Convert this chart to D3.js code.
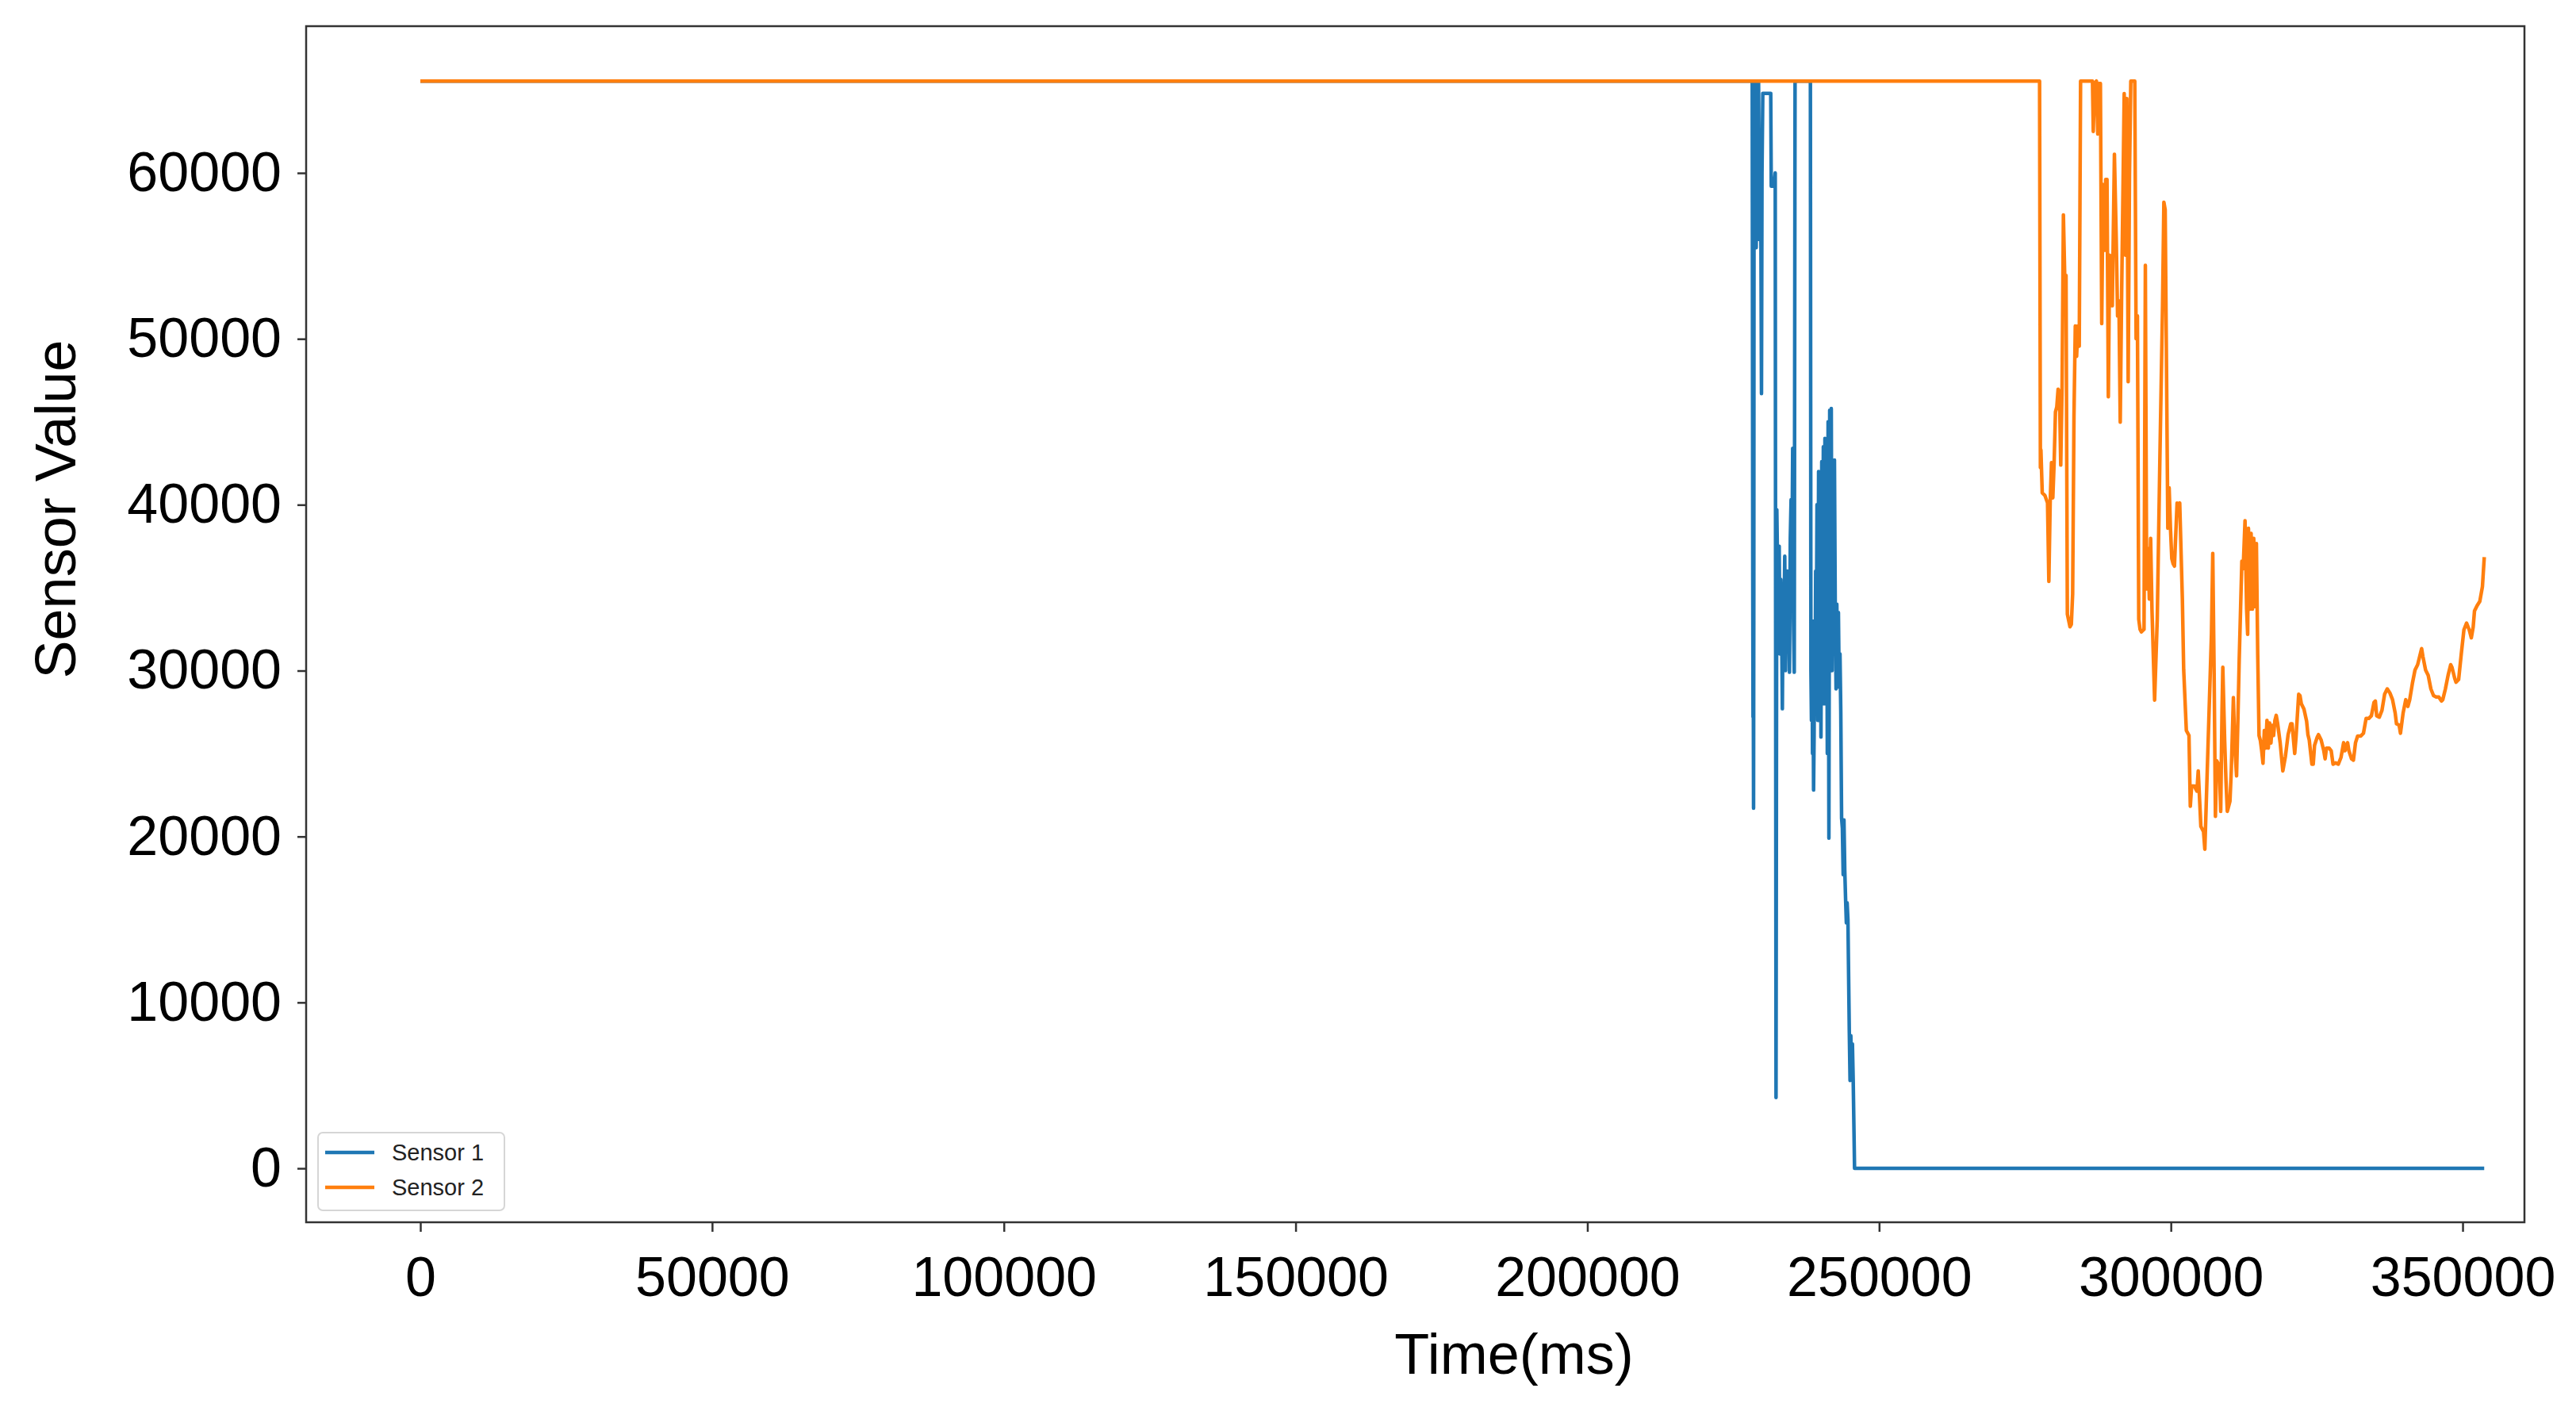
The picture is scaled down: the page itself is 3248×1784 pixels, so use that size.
<!DOCTYPE html>
<html>
<head>
<meta charset="utf-8">
<script src="https://cdn.jsdelivr.net/npm/d3@7"></script>
<style>
  html, body { margin: 0; padding: 0; background: #fff; }
  svg { display: block; font-family: "Liberation Sans", Arial, Helvetica, sans-serif; }
</style>
</head>
<body>
<svg id="chart" width="3248" height="1784"></svg>
<script>
// ---- data ----
const seriesNames = ["Sensor 1", "Sensor 2"];
const seriesColors = ["#1f77b4", "#ff7f0e"];
const xTicks = [0, 50000, 100000, 150000, 200000, 250000, 300000, 350000];
const yTicks = [0, 10000, 20000, 30000, 40000, 50000, 60000];
const xLabel = "Time(ms)";
const yLabel = "Sensor Value";

// Sensor 1: [time(ms), value]
const sensor1 = [
  [0, 65535], [228255, 65535],
  [228346, 35700], [228391, 27200], [228436, 30000], [228482, 21700], [228527, 35000],
  [228572, 65535], [228708, 57000], [228799, 65535], [228935, 55500], [229071, 63000],
  [229206, 56000], [229342, 65535], [229478, 58000], [229614, 62000], [229750, 55400],
  [229841, 46700], [229931, 60000], [230067, 64800], [230158, 64800], [230838, 64800],
  [231427, 64800], [231517, 59200], [231970, 59200], [232197, 60000],
  [232333, 4270], [232469, 39700], [232605, 36000], [232741, 33300], [232877, 37500],
  [233013, 31000], [233148, 35500], [233284, 33300], [233420, 27700], [233556, 35000],
  [233692, 33000], [233828, 36900], [233964, 30000], [234100, 34000], [234236, 36000],
  [234372, 32000], [234508, 35000], [234643, 29900], [234779, 38000], [234915, 40300],
  [235051, 36000], [235187, 43400], [235323, 33000], [235459, 29900],
  [235595, 65535], [235686, 65535], [238088, 65535], [238223, 65535],
  [238314, 30000], [238405, 27000], [238495, 33000], [238586, 25000], [238677, 30000],
  [238767, 22800], [238858, 26000], [238949, 33000], [239039, 29000], [239130, 36000],
  [239220, 30000], [239356, 40000], [239492, 27000], [239628, 42000], [239764, 31000],
  [239900, 38500], [240036, 26000], [240172, 42600], [240307, 30000], [240443, 43500],
  [240579, 28000], [240715, 44000], [240851, 32000], [240987, 42800], [241123, 25000],
  [241259, 45000], [241395, 19900], [241531, 45700], [241667, 35000], [241803, 45800],
  [241939, 30000], [242075, 40000], [242210, 36000], [242346, 42700], [242482, 34000],
  [242618, 28900], [242754, 34000], [242890, 30000], [243026, 33500], [243162, 29000],
  [243298, 31000], [243434, 27500], [243570, 21100], [243705, 20500], [243841, 17700],
  [243977, 21000], [244113, 18000], [244249, 16300], [244385, 14800], [244521, 16000],
  [244657, 15000], [244884, 8400], [245020, 5300], [245155, 8000], [245291, 5500],
  [245427, 7500], [245563, 5250], [245790, 0], [353700, 0]
];

// Sensor 2: [time(ms), value]
const sensor2 = [
  [0, 65535], [277500, 65535], [277640, 42238], [277730, 43305], [277957, 40715],
  [278410, 40563], [278863, 40106], [279090, 35383], [279316, 40106], [279543, 42543],
  [279769, 40410], [279996, 42543], [280222, 45590], [280449, 45895], [280676, 46961],
  [280902, 46809], [281129, 42391], [281355, 47114], [281582, 57473], [281808, 53817],
  [282035, 53817], [282261, 33402], [282715, 32640], [282941, 32793], [283168, 34621],
  [283394, 45285], [283621, 50770], [283847, 48942], [284074, 50770], [284300, 49551],
  [284527, 65535], [286566, 65535], [286702, 62501], [286928, 65396], [287246, 65535],
  [287472, 62349], [287699, 65396], [287925, 65396], [288152, 50922], [288378, 59302],
  [288605, 55341], [288831, 59606], [289058, 59606], [289284, 46504], [289511, 55036],
  [289737, 54426], [289964, 51989], [290326, 61130], [290644, 55950], [290870, 51379],
  [291097, 52294], [291323, 44981], [291550, 52294], [292003, 64786], [292230, 55036],
  [292456, 64482], [292683, 47418], [292909, 59911], [293136, 65535], [293815, 65535],
  [294042, 50008], [294269, 51379], [294495, 33097], [294722, 32488], [294948, 32336],
  [295401, 32488], [295628, 54426], [295854, 34926], [296081, 37363], [296308, 34316],
  [296534, 37973], [296761, 33707], [297214, 28222], [297667, 33097], [298120, 42848],
  [298573, 51989], [298800, 58235], [299026, 57778], [299253, 48332], [299479, 38582],
  [299706, 41020], [299932, 38582], [300159, 36754], [300385, 36449], [300612, 36297],
  [301065, 40106], [301292, 39801], [301518, 40106], [301971, 34316], [302198, 30050],
  [302651, 26394], [303104, 26089], [303331, 21824], [303557, 23042], [303784, 23042],
  [304010, 23042], [304463, 22738], [304690, 23956], [305143, 20605], [305596, 20300],
  [305823, 19234], [306049, 21824], [306502, 27003], [306955, 32183], [307182, 37059],
  [307408, 30050], [307635, 21214], [307862, 24566], [308315, 24261], [308541, 21519],
  [308768, 27613], [308904, 30203], [309221, 25785], [309447, 23347], [309674, 21519],
  [310127, 22128], [310354, 23956], [310716, 28375], [310943, 25480], [311260, 23652],
  [311486, 27003], [311713, 30660], [312166, 36601], [312393, 36144], [312710, 39039],
  [312982, 33707], [313163, 32183], [313299, 38582], [313525, 33707], [313752, 38277],
  [313978, 33707], [314205, 37973], [314432, 33859], [314658, 37668], [314885, 30965],
  [315111, 26089], [315338, 25785], [315564, 25175], [315791, 24413], [316017, 26394],
  [316244, 25328], [316470, 27003], [316697, 25328], [316924, 26851], [317150, 25632],
  [317377, 26699], [317603, 26089], [317830, 27003], [318056, 27308], [318283, 26851],
  [318736, 25632], [319189, 23956], [319639, 24846], [320092, 26143], [320545, 26792],
  [320771, 26792], [321224, 25008], [321451, 25981], [321904, 28575], [322131, 28494],
  [322357, 28007], [322810, 27683], [323263, 26954], [323490, 26143], [323716, 25819],
  [324170, 24360], [324396, 24360], [324623, 25495], [325076, 25981], [325302, 26143],
  [325755, 25819], [326208, 25171], [326435, 24684], [326662, 25333], [327115, 25333],
  [327477, 25171], [327794, 24360], [328247, 24441], [328700, 24360], [329154, 24765],
  [329607, 25657], [329833, 25171], [330286, 25657], [330513, 25171], [330966, 24684],
  [331283, 24603], [331646, 25657], [332008, 26062], [332552, 26062], [333005, 26224],
  [333458, 27116], [333911, 27116], [334364, 27278], [334817, 28088], [335044, 28169],
  [335271, 27278], [335724, 27197], [336177, 27602], [336630, 28575], [337083, 28899],
  [337536, 28656], [337989, 28250], [338442, 27440], [338669, 26792], [339122, 26711],
  [339348, 26224], [339801, 27440], [340255, 28250], [340617, 27845], [340934, 28250],
  [341387, 29223], [341840, 30034], [342294, 30358], [342747, 31006], [342973, 31330],
  [343200, 30844], [343653, 30034], [344106, 29709], [344559, 28899], [345012, 28494],
  [345465, 28413], [345918, 28413], [346371, 28169], [346598, 28250], [347051, 28899],
  [347504, 29709], [347957, 30358], [348184, 30196], [348637, 29547], [348864, 29304],
  [349317, 29466], [349770, 31006], [350223, 32465], [350676, 32870], [351129, 32465],
  [351491, 31979], [351809, 32627], [352035, 33600], [352488, 33924], [352941, 34167],
  [353394, 35059], [353712, 36842]
];

const series = [sensor1, sensor2];

// ---- layout ----
const plot = { left: 386, right: 3183, top: 33, bottom: 1541 };
const axisColor = "#333333";
const fontTick = 70;

const svg = d3.select("#chart");

const x = d3.scaleLinear().domain([-19572, 360596]).range([plot.left, plot.right]);
const y = d3.scaleLinear().domain([-3251, 68846]).range([plot.bottom, plot.top]);

// lines
const line = d3.line().x(d => x(d[0])).y(d => y(d[1]));
svg.append("clipPath").attr("id", "clip")
  .append("rect").attr("x", plot.left).attr("y", plot.top)
  .attr("width", plot.right - plot.left).attr("height", plot.bottom - plot.top);

const g = svg.append("g").attr("clip-path", "url(#clip)");
series.forEach((s, i) => {
  g.append("path")
    .datum(s)
    .attr("fill", "none")
    .attr("stroke", seriesColors[i])
    .attr("stroke-width", 4.5)
    .attr("stroke-linejoin", "round")
    .attr("d", line);
});

// axes
const xAxis = d3.axisBottom(x).tickValues(xTicks).tickFormat(d3.format("d"))
  .tickSizeInner(12).tickSizeOuter(0).tickPadding(31);
const yAxis = d3.axisLeft(y).tickValues(yTicks).tickFormat(d3.format("d"))
  .tickSizeInner(11).tickSizeOuter(0).tickPadding(20);

const gx = svg.append("g").attr("transform", `translate(0,${plot.bottom})`).call(xAxis);
const gy = svg.append("g").attr("transform", `translate(${plot.left},0)`).call(yAxis);
[gx, gy].forEach(a => {
  a.select(".domain").remove();
  a.selectAll(".tick line").attr("stroke", axisColor).attr("stroke-width", 2.5);
  a.selectAll(".tick text").attr("fill", "#000").style("font-size", fontTick + "px")
    .style("font-family", '"Liberation Sans", Arial, sans-serif');
});

// frame
svg.append("rect")
  .attr("x", plot.left).attr("y", plot.top)
  .attr("width", plot.right - plot.left).attr("height", plot.bottom - plot.top)
  .attr("fill", "none").attr("stroke", axisColor).attr("stroke-width", 2.5);

// axis titles
svg.append("text")
  .attr("x", 1909).attr("y", 1732)
  .attr("text-anchor", "middle")
  .style("font-size", "72px").attr("fill", "#000")
  .text(xLabel);
svg.append("text")
  .attr("transform", "translate(95,642) rotate(-90)")
  .attr("text-anchor", "middle")
  .style("font-size", "72px").attr("fill", "#000")
  .text(yLabel);

// legend
const lg = svg.append("g");
lg.append("rect")
  .attr("x", 401).attr("y", 1428).attr("width", 235).attr("height", 98)
  .attr("rx", 6).attr("ry", 6)
  .attr("fill", "#fff").attr("fill-opacity", 0.8)
  .attr("stroke", "#d6d6d6").attr("stroke-width", 2);
seriesNames.forEach((name, i) => {
  const yy = 1453 + i * 44;
  lg.append("line")
    .attr("x1", 410).attr("x2", 472).attr("y1", yy).attr("y2", yy)
    .attr("stroke", seriesColors[i]).attr("stroke-width", 4.5);
  lg.append("text")
    .attr("x", 494).attr("y", yy + 10)
    .style("font-size", "29px").attr("fill", "#222")
    .text(name);
});
</script>
</body>
</html>
